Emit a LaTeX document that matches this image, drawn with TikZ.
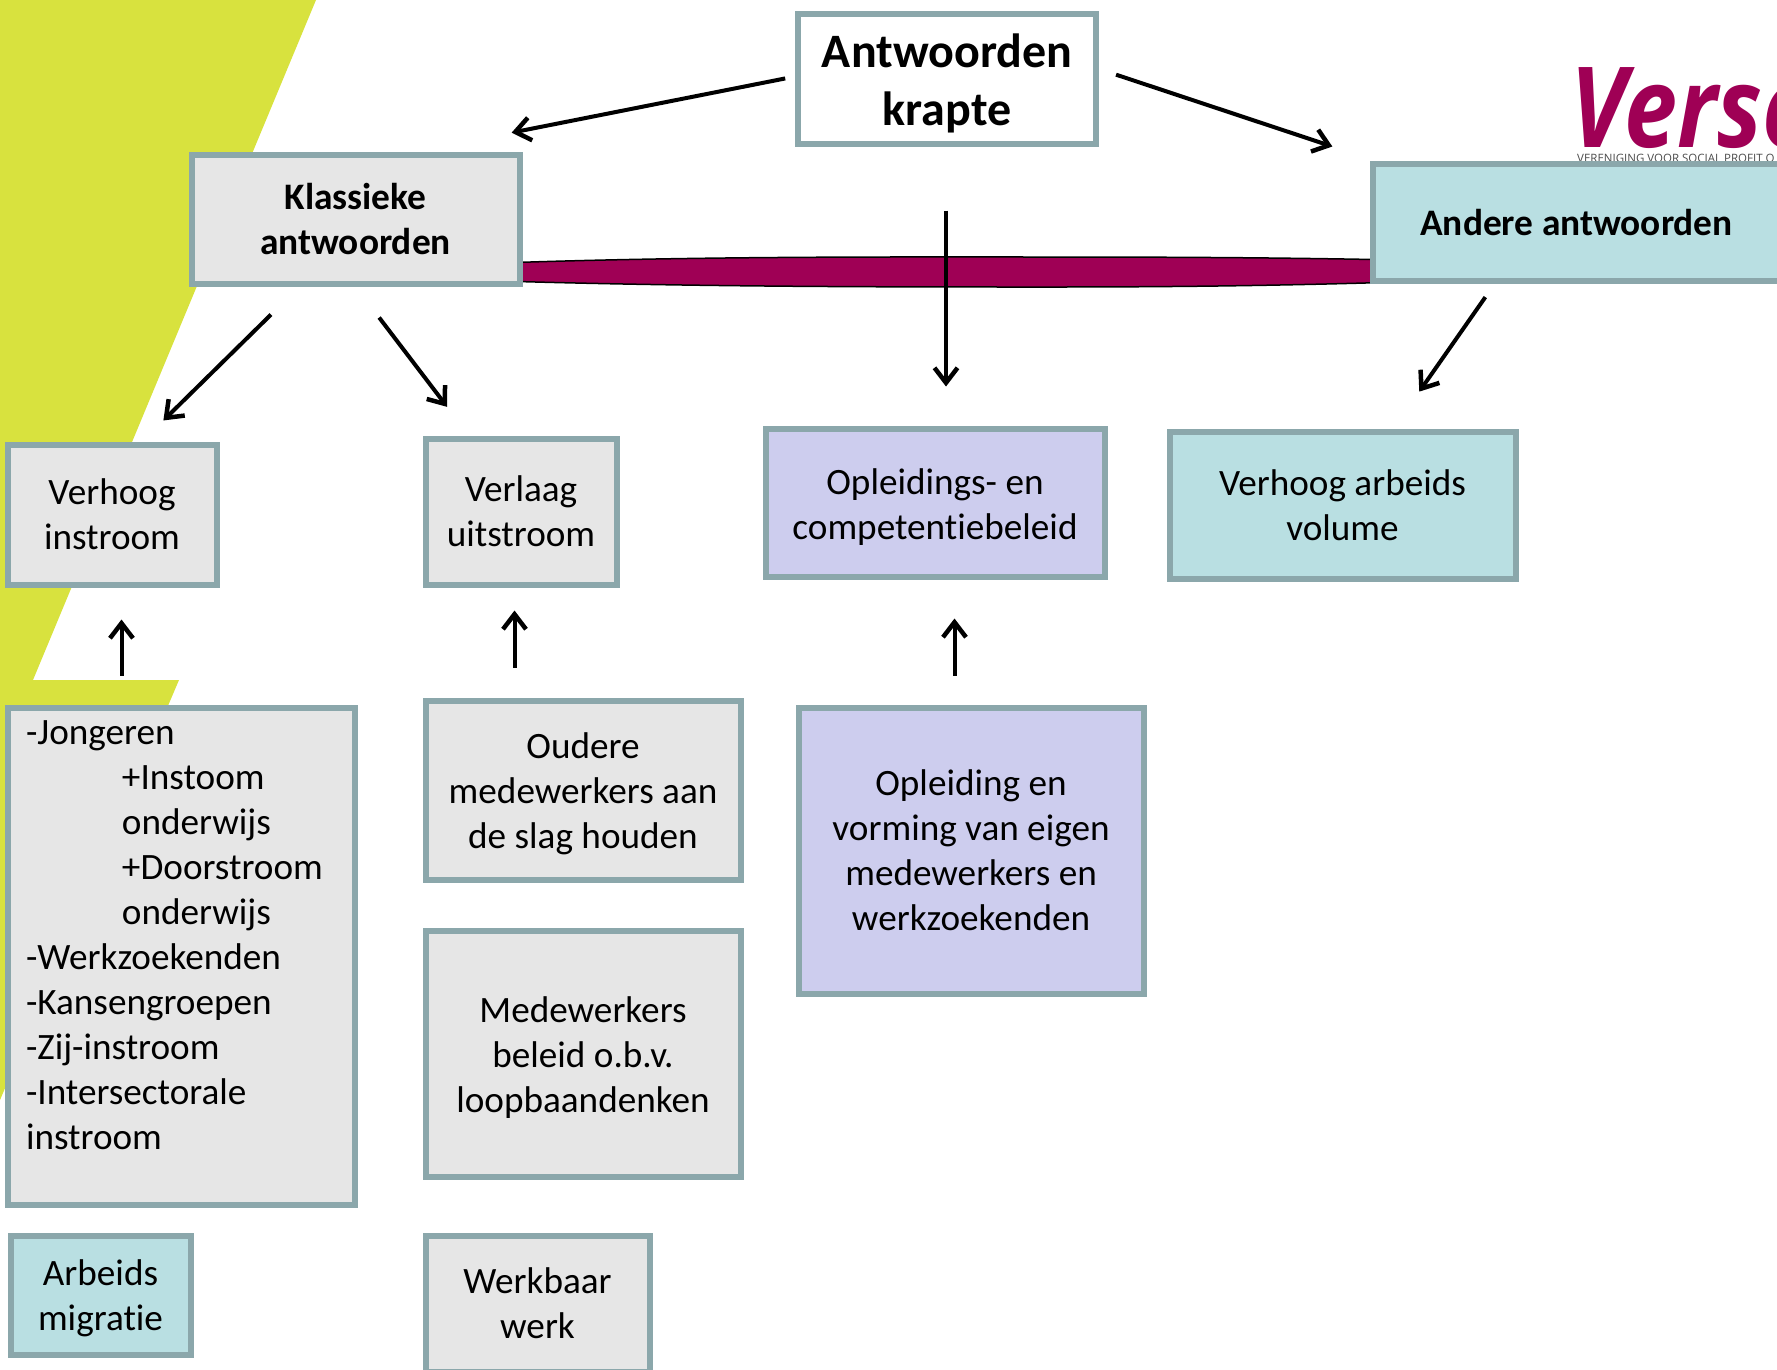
\documentclass[tikz,border=0pt]{standalone}
\usepackage{fontspec}
\setmainfont[Ligatures=NoCommon]{Carlito}
\newfontfamily\logofont[FakeStretch=0.85]{Open Sans}
\newfontfamily\logoklein{Open Sans}
\usetikzlibrary{arrows.meta}

\definecolor{rand}{HTML}{8BA7AB}
\definecolor{grijs}{HTML}{E6E6E6}
\definecolor{teal}{HTML}{B9DFE2}
\definecolor{lila}{HTML}{CDCDEE}
\definecolor{geel}{HTML}{D8E23E}
\definecolor{paars}{HTML}{9F0055}

\tikzset{
    doos/.style={draw=rand, line width=6pt, inner sep=0pt, align=center, font=\fontsize{37.2}{45}\selectfont},
    vet/.style={font=\fontsize{37.4}{45}\selectfont\bfseries},
    grijsdoos/.style={doos, fill=grijs},
    tealdoos/.style={doos, fill=teal},
    liladoos/.style={doos, fill=lila},
    pijl/.style={-{Straight Barb[length=15pt,width=23pt,line width=4.5pt]}, line width=4pt, black},
}

\begin{document}
\begin{tikzpicture}[x=1pt, y=-1pt]

    \clip (0,0) rectangle (1777,1369);

    % Achtergrond
    \fill[geel] (0,0) -- (316,0) -- (33,680) -- (179,680) -- (0,1100) -- cycle;

    % Logo
    \node[anchor=base west, inner sep=0pt, text=paars, font=\fontsize{112}{112}\selectfont\logofont\bfseries\itshape] (logo) at (1570,147) {Verso};
    \node[anchor=base west, inner sep=0pt, text=black!70, font=\fontsize{11.5}{12}\logoklein] (logotekst) at (1577,162.5) {VERENIGING VOOR SOCIAL PROFIT O};

    % Balk
    \draw[fill=paars, line width=1.5pt] (500,263) .. controls (700,256) and (900,257) .. (1050,257) .. controls (1200,257) and (1300,258) .. (1400,260) -- (1400,282) .. controls (1300,285) and (1200,287) .. (1050,287) .. controls (900,287) and (700,287) .. (500,281) -- cycle;

    % Bovenste rij
    \node[doos, fill=white, minimum width=298, minimum height=130, font=\fontsize{48}{58}\selectfont\bfseries] (krapte) at (947,78.5) {\rule{0pt}{44pt}Antwoorden\\krapte};
    \node[grijsdoos, vet, minimum width=328, minimum height=129] (klassiek) at (355.5,219) {Klassieke\\antwoorden};
    \node[tealdoos, vet, minimum width=407, minimum height=117] (andere) at (1576.5,222.5) {Andere antwoorden};

    % Tweede rij
    \node[grijsdoos, minimum width=209, minimum height=140] (instroom) at (112,514.5) {Verhoog\\instroom};
    \node[grijsdoos, minimum width=191, minimum height=146] (uitstroom) at (521,511.5) {Verlaag\\uitstroom};
    \node[liladoos, minimum width=339, minimum height=148] (beleid) at (935,502.5) {\rule{0pt}{34pt}Opleidings- en\\competentiebeleid};
    \node[tealdoos, minimum width=346, minimum height=147] (volume) at (1342.5,505) {Verhoog arbeids\\volume};

    % Derde rij
    \node[grijsdoos, minimum width=347, minimum height=497, text width=310, align=left] (lijst) at (181,956) {-Jongeren\\
        \hspace*{96pt}+Instoom\\
        \hspace*{96pt}onderwijs\\
        \hspace*{96pt}+Doorstroom\\
        \hspace*{96pt}onderwijs\\
        -Werkzoekenden\\
        -Kansengroepen\\
        -Zij-instroom\\
        -Intersectorale\\
        instroom\\[-16pt]
        \strut};
    \node[grijsdoos, minimum width=315, minimum height=179] (oudere) at (583,790) {\rule{0pt}{34pt}Oudere\\medewerkers aan\\de slag houden};
    \node[grijsdoos, minimum width=315, minimum height=246] (loopbaan) at (583,1053.5) {\rule{0pt}{34pt}Medewerkers\\beleid o.b.v.\\loopbaandenken};
    \node[liladoos, minimum width=345, minimum height=286] (vorming) at (971,850.5) {Opleiding en\\vorming van eigen\\medewerkers en\\werkzoekenden};
    \node[tealdoos, minimum width=180, minimum height=119] (migratie) at (100.5,1295) {\rule{0pt}{32pt}Arbeids\\migratie};
    \node[grijsdoos, minimum width=224, minimum height=136] (werkbaar) at (537.5,1303.5) {Werkbaar\\werk};

    % Pijlen
    \draw[pijl, shorten <=10pt, shorten >=97pt] ([yshift=2pt]krapte.west) -- ([xshift=61pt]klassiek.north);
    \draw[pijl, shorten <=18pt, shorten >=46pt] ([yshift=9.5pt]krapte.east) -- ([xshift=6pt]andere.north west);
    \draw[pijl, shorten <=40pt, shorten >=30pt] ([xshift=-56pt]klassiek.south) -- ([xshift=30pt]instroom.north);
    \draw[pijl, shorten <=39pt, shorten >=36pt] (klassiek.south) -- ([xshift=-52pt]uitstroom.north);
    \draw[pijl, shorten <=64pt, shorten >=39pt] ([xshift=-1pt]krapte.south) -- ([xshift=11pt]beleid.north);
    \draw[pijl, shorten <=16pt, shorten >=45pt] ([xshift=-82pt]andere.south) -- ([xshift=51pt]volume.north);
    \draw[pijl, shorten <=29pt, shorten >=32pt] ([xshift=-59.5pt]lijst.north) -- ([xshift=9.5pt]instroom.south);
    \draw[pijl, shorten <=30pt, shorten >=23pt] ([xshift=-68.5pt]oudere.north) -- ([xshift=-6.5pt]uitstroom.south);
    \draw[pijl, shorten <=29pt, shorten >=39pt] ([xshift=-16.5pt]vorming.north) -- ([xshift=19.5pt]beleid.south);

\end{tikzpicture}
\end{document}
